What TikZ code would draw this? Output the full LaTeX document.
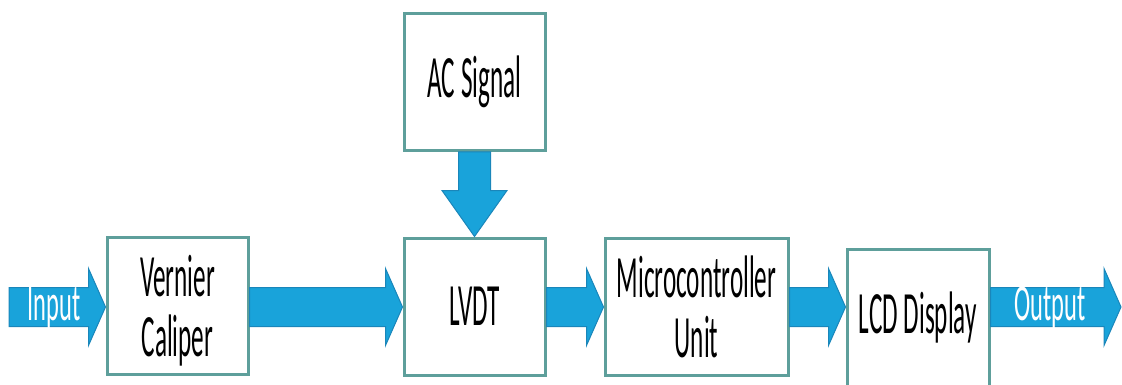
\documentclass[tikz,border=0pt]{standalone}
\usepackage{fontspec}
\usetikzlibrary{calc}
\newfontfamily\blockfont[FakeStretch=0.42]{Carlito}
\newfontfamily\flowfont[FakeStretch=0.47]{Carlito}
\definecolor{bdteal}{HTML}{5E9F9B}
\definecolor{flowblue}{HTML}{19A3DA}
\definecolor{flowedge}{HTML}{1A86BA}

\begin{document}
\begin{tikzpicture}[x=1pt,y=-1pt,
    block/.style={draw=bdteal,line width=3pt,fill=white,minimum width=141pt,minimum height=137pt,
      inner sep=0pt,align=center,font=\blockfont\fontsize{60}{60}\selectfont},
    twoline/.style={text depth=0pt},
    flow/.style={fill=flowblue,draw=flowedge,line width=1pt,line join=miter},
    flowtext/.style={text=white,inner sep=0pt,font=\flowfont\fontsize{52}{54}\selectfont}]
  \useasboundingbox (0,0) rectangle (1122,385);
  \node[block] (ac) at (474.5,82) {AC Signal};
  \node[block,twoline] (vc) at (177.5,306) {Vernier\\Caliper};
  \node[block] (lvdt) at (474.5,306.5) {LVDT};
  \node[block,twoline,minimum width=183pt] (mcu) at (696.5,306.5) {Microcontroller\\Unit};
  \node[block,minimum width=142pt] (lcd) at (918,318) {LCD Display};
  \coordinate (in) at (9,307);
  \coordinate (out) at (1121,307);
  \coordinate (mid) at (0,307);
  \foreach \a/\b in {in/vc,vc/lvdt,lvdt/mcu,mcu/lcd,lcd/out}{
    \filldraw[flow] let \p1=(\a.east), \p2=(\b.west), \p3=(mid) in
      (\x1,\y3+19.5) -- (\x2-17,\y3+19.5) -- (\x2-17,\y3+38.5) -- (\x2,\y3)
      -- (\x2-17,\y3-38.5) -- (\x2-17,\y3-19.5) -- (\x1,\y3-19.5) -- cycle;
  }
  \filldraw[flow] let \p1=(ac.south), \p2=(lvdt.north) in
    (\x1-16,\y1) -- (\x1-16,\y2+46) -- (\x1-32.5,\y2+46) -- (\x1,\y2)
    -- (\x1+32.5,\y2+46) -- (\x1+16,\y2+46) -- (\x1+16,\y1) -- cycle;
  \node[flowtext] (intext) at (54,308) {Input};
  \node[flowtext] (outtext) at (1050,308) {Output};
\end{tikzpicture}
\end{document}
